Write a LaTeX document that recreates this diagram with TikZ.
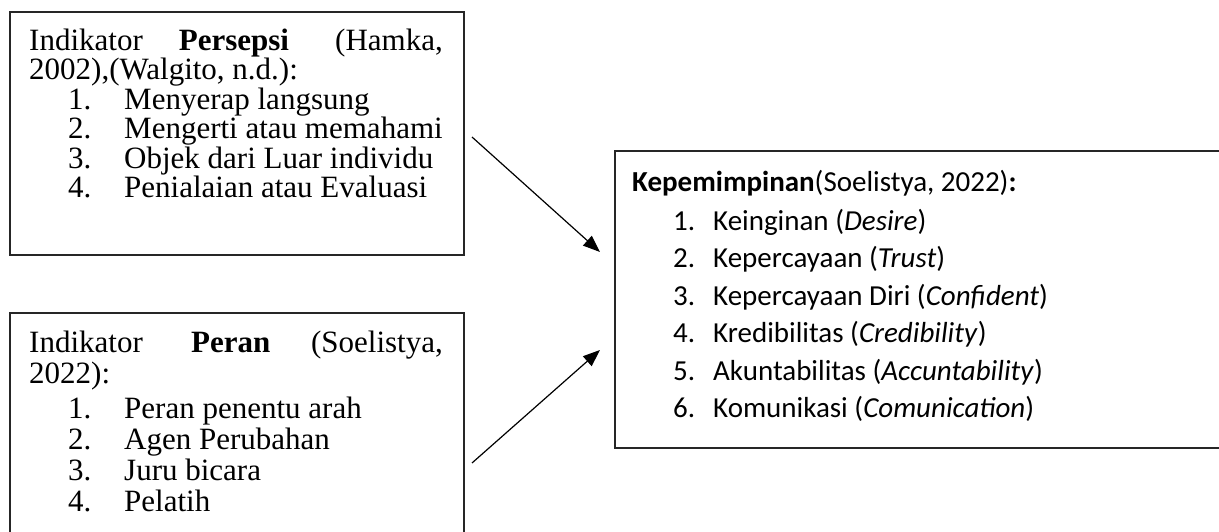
\documentclass[tikz,border=0pt]{standalone}
\usepackage{fontspec}
\setmainfont{Liberation Serif}
\newfontfamily\carl{Carlito}
\usetikzlibrary{arrows.meta}
\begin{document}
\begin{tikzpicture}[x=1pt,y=-1pt,
  box/.style={draw=black!85, line width=1.6pt, inner sep=0pt, anchor=north west},
  lt/.style={anchor=base west, inner sep=0pt, font=\fontsize{31}{31}\selectfont},
  rt/.style={anchor=base west, inner sep=0pt, font=\carl\fontsize{29}{29}\selectfont},
  arr/.style={line width=1.2pt, -{Triangle[length=17pt,width=13pt]}}]
\useasboundingbox (0,0) rectangle (1219,532);
\clip (0,0) rectangle (1219,532);
\fill[white] (0,0) rectangle (1219,532);
% boxes
\node[box, minimum width=454pt, minimum height=243pt] (bp) at (9,11) {};
\node[box, minimum width=454pt, minimum height=240pt] (br) at (9,312) {};
\node[box, minimum width=630pt, minimum height=297pt] (bk) at (614,150) {};
% box 1: Persepsi
\node[lt] (p0a) at (29,51) {Indikator};
\node[lt, anchor=base] (p0b) at (234,51) {\bfseries Persepsi};
\node[lt, anchor=base east] (p0c) at (443,51) {(Hamka,};
\node[lt] (p1) at (29,80) {2002),(Walgito, n.d.):};
\node[lt] (pn1) at (68,110) {1.};
\node[lt] (pt1) at (124,110) {Menyerap langsung};
\node[lt] (pn2) at (68,139) {2.};
\node[lt] (pt2) at (124,139) {Mengerti atau memahami};
\node[lt] (pn3) at (68,168) {3.};
\node[lt] (pt3) at (124,168) {Objek dari Luar individu};
\node[lt] (pn4) at (68,197) {4.};
\node[lt] (pt4) at (124,197) {Penialaian atau Evaluasi};
% box 2: Peran
\node[lt] (r0a) at (29,352) {Indikator};
\node[lt] (r0b) at (191,352) {\bfseries Peran};
\node[lt, anchor=base east] (r0c) at (443,352) {(Soelistya,};
\node[lt] (r1) at (29,383) {2022):};
\node[lt] (rn1) at (68,418) {1.};
\node[lt] (rt1) at (124,418) {Peran penentu arah};
\node[lt] (rn2) at (68,449) {2.};
\node[lt] (rt2) at (124,449) {Agen Perubahan};
\node[lt] (rn3) at (68,480) {3.};
\node[lt] (rt3) at (124,480) {Juru bicara};
\node[lt] (rn4) at (68,511) {4.};
\node[lt] (rt4) at (124,511) {Pelatih};
% box 3: Kepemimpinan
\node[rt] (k0) at (632,192) {\bfseries Kepemimpinan\mdseries(Soelistya, 2022)\bfseries:};
\node[rt] (kn1) at (673,230) {1.};
\node[rt] (kt1) at (713,230) {Keinginan (\textit{Desire})};
\node[rt] (kn2) at (673,267) {2.};
\node[rt] (kt2) at (713,267) {Kepercayaan (\textit{Trust})};
\node[rt] (kn3) at (673,305) {3.};
\node[rt] (kt3) at (713,305) {Kepercayaan Diri (\textit{Confident})};
\node[rt] (kn4) at (673,342) {4.};
\node[rt] (kt4) at (713,342) {Kredibilitas (\textit{Credibility})};
\node[rt] (kn5) at (673,380) {5.};
\node[rt] (kt5) at (713,380) {Akuntabilitas (\textit{Accuntability})};
\node[rt] (kn6) at (673,417) {6.};
\node[rt] (kt6) at (713,417) {Komunikasi (\textit{Comunication})};
% arrows
\coordinate (a1s) at (472,137);
\coordinate (a1e) at (600,252);
\coordinate (a2s) at (472,463);
\coordinate (a2e) at (600,350);
\draw[arr] (a1s) -- (a1e);
\draw[arr] (a2s) -- (a2e);
\end{tikzpicture}
\end{document}
